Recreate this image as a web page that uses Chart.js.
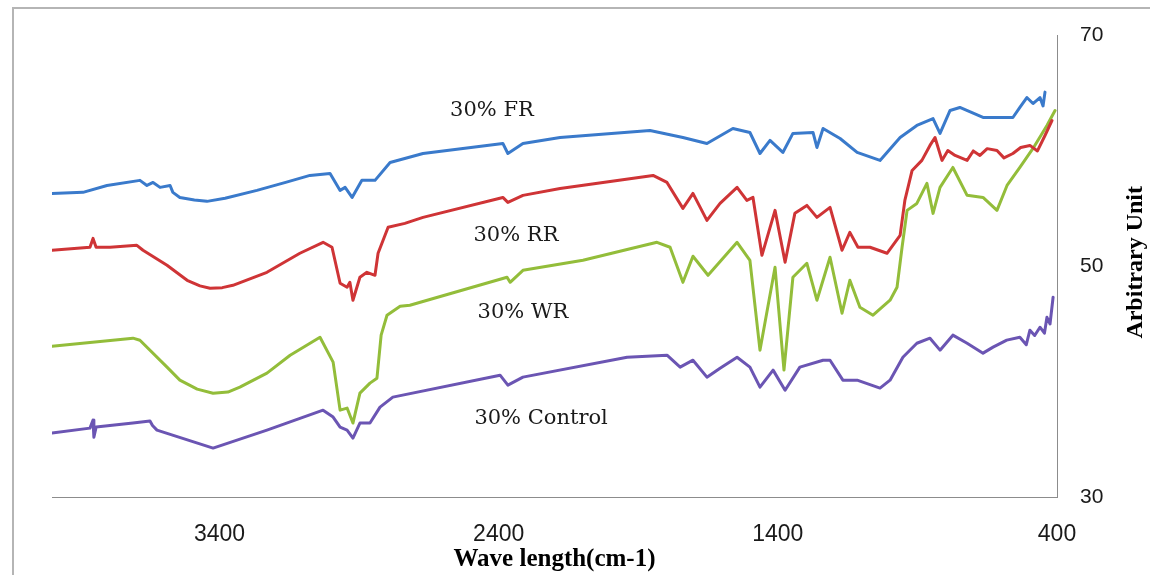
<!DOCTYPE html>
<html>
<head>
<meta charset="utf-8">
<title>FTIR spectra</title>
<script src="https://cdn.jsdelivr.net/npm/chart.js@4.4.1/dist/chart.umd.min.js"></script>
<style>
  html, body { margin: 0; padding: 0; background: #fff; }
  #wrap { position: relative; width: 1150px; height: 575px; overflow: hidden; background: #fff; }
  #frame { position: absolute; left: 12px; top: 7px; width: 1140px; height: 570px;
           border-top: 2px solid #b5b5b5; border-left: 2px solid #b5b5b5; box-sizing: border-box; }
  #c { position: absolute; left: 0; top: 0; }
</style>
</head>
<body>
<div id="wrap">
  <div id="frame"></div>
  <canvas id="c" width="1150" height="575"></canvas>
</div>
<script>
// Wavenumber ticks (cm-1), axis runs from high to low
const xTickValues = [3400, 2400, 1400, 400];
const yTickValues = [30, 50, 70];

// 30% FR
const frWn  = [4000, 3889, 3803, 3685, 3660, 3638, 3613, 3577, 3567, 3542, 3490, 3445, 3380, 3266, 3160, 3076, 3004, 2968, 2950, 2925, 2890, 2843, 2789, 2671, 2385, 2367, 2313, 2180, 1858, 1740, 1654, 1561, 1500, 1464, 1428, 1382, 1346, 1274, 1260, 1238, 1177, 1116, 1034, 962, 902, 844, 819, 783, 748, 665, 558, 533, 508, 486, 461, 450, 443];
const frVal = [56.32, 56.41, 57.01, 57.45, 57.01, 57.27, 56.84, 57.01, 56.41, 55.97, 55.75, 55.63, 55.90, 56.58, 57.30, 57.88, 58.05, 56.58, 56.84, 55.97, 57.45, 57.45, 59.00, 59.78, 60.65, 59.78, 60.65, 61.17, 61.77, 61.17, 60.65, 61.95, 61.60, 59.78, 60.91, 59.87, 61.52, 61.60, 60.30, 61.95, 61.08, 59.87, 59.18, 61.17, 62.21, 62.81, 61.52, 63.51, 63.77, 62.90, 62.90, 63.77, 64.63, 64.11, 64.63, 63.90, 65.10];

// 30% RR
const rrWn  = [4000, 3864, 3853, 3842, 3792, 3696, 3674, 3588, 3516, 3470, 3434, 3390, 3352, 3230, 3112, 3029, 2997, 2968, 2943, 2933, 2922, 2897, 2872, 2843, 2832, 2796, 2736, 2671, 2385, 2367, 2313, 2180, 1847, 1797, 1740, 1704, 1654, 1607, 1546, 1511, 1489, 1457, 1410, 1374, 1339, 1296, 1260, 1213, 1170, 1142, 1113, 1070, 1009, 962, 945, 919, 884, 855, 837, 812, 791, 765, 722, 700, 676, 650, 615, 590, 558, 530, 497, 470, 443, 418];
const rrVal = [51.39, 51.65, 52.42, 51.65, 51.65, 51.82, 51.39, 50.09, 48.79, 48.30, 48.10, 48.15, 48.35, 49.48, 51.13, 52.08, 51.65, 48.53, 48.18, 48.61, 47.06, 49.05, 49.48, 49.22, 51.13, 53.38, 53.72, 54.24, 55.97, 55.54, 56.15, 56.75, 57.88, 57.27, 55.02, 56.32, 53.98, 55.45, 56.84, 55.71, 55.97, 50.95, 54.85, 50.35, 54.59, 55.28, 54.24, 55.11, 51.39, 52.94, 51.65, 51.65, 51.13, 52.68, 55.71, 58.31, 59.18, 60.48, 61.17, 59.18, 60.04, 59.61, 59.18, 60.00, 59.61, 60.20, 60.04, 59.40, 59.78, 60.30, 60.48, 60.00, 61.34, 62.64];

// 30% WR
const wrWn  = [4000, 3710, 3685, 3588, 3542, 3480, 3423, 3370, 3327, 3230, 3147, 3040, 2993, 2968, 2943, 2922, 2897, 2861, 2836, 2821, 2800, 2753, 2718, 2370, 2359, 2313, 2098, 1833, 1786, 1740, 1704, 1650, 1546, 1500, 1464, 1410, 1378, 1346, 1296, 1260, 1213, 1170, 1142, 1106, 1059, 998, 973, 955, 937, 902, 866, 844, 819, 773, 722, 665, 615, 579, 533, 486, 436, 407];
const wrVal = [43.07, 43.77, 43.59, 41.26, 40.13, 39.35, 39.00, 39.10, 39.52, 40.74, 42.29, 43.85, 41.69, 37.53, 37.71, 36.41, 39.00, 39.87, 40.30, 44.03, 45.76, 46.54, 46.62, 49.05, 48.61, 49.65, 50.52, 52.08, 51.65, 48.61, 50.87, 49.22, 52.08, 50.52, 42.73, 49.91, 41.00, 49.05, 50.26, 47.06, 50.78, 45.93, 48.79, 46.45, 45.76, 47.06, 48.18, 51.65, 54.85, 55.45, 57.19, 54.59, 56.84, 58.57, 56.15, 55.97, 54.85, 57.01, 58.57, 60.22, 62.21, 63.51];

// 30% Control
const ctWn  = [4000, 3864, 3853, 3850, 3842, 3710, 3649, 3640, 3624, 3423, 3230, 3029, 2993, 2968, 2943, 2922, 2897, 2861, 2825, 2779, 2395, 2367, 2313, 1940, 1797, 1750, 1704, 1654, 1607, 1546, 1500, 1464, 1417, 1374, 1321, 1238, 1213, 1167, 1116, 1034, 998, 952, 902, 855, 819, 773, 722, 665, 629, 580, 533, 510, 497, 480, 461, 445, 436, 425, 414];
const ctVal = [35.54, 35.97, 36.67, 35.19, 36.06, 36.41, 36.58, 36.20, 35.80, 34.24, 35.80, 37.53, 36.93, 36.06, 35.80, 35.11, 36.41, 36.41, 37.79, 38.66, 40.56, 39.70, 40.39, 42.12, 42.29, 41.26, 41.86, 40.39, 41.17, 42.12, 41.26, 39.52, 41.00, 39.26, 41.26, 41.86, 41.86, 40.13, 40.13, 39.44, 40.13, 42.12, 43.33, 43.77, 42.73, 44.03, 43.33, 42.47, 42.99, 43.60, 43.85, 43.20, 44.46, 44.00, 44.72, 44.20, 45.58, 45.00, 47.32];

// Curve labels, anchored in data coordinates (wavenumber, value)
const curveLabels = [
  { text: '30% FR',      wn: 2424, val: 63.5 },
  { text: '30% RR',      wn: 2338, val: 52.7 },
  { text: '30% WR',      wn: 2313, val: 46.0 },
  { text: '30% Control', wn: 2248, val: 36.8 }
];

const pairs = (xs, ys) => xs.map((x, i) => ({ x: x, y: ys[i] }));

function series(label, xs, ys, color) {
  return {
    label: label,
    data: pairs(xs, ys),
    borderColor: color,
    backgroundColor: color,
    borderWidth: 3,
    pointRadius: 0,
    tension: 0,
    fill: false,
    borderJoinStyle: 'round',
    borderCapStyle: 'round'
  };
}

const curveLabelPlugin = {
  id: 'curveLabels',
  afterDatasetsDraw(chart) {
    const { ctx, scales: { x, y } } = chart;
    ctx.save();
    ctx.font = '21px "DejaVu Serif"';
    ctx.fillStyle = '#1a1a1a';
    ctx.textAlign = 'center';
    ctx.textBaseline = 'middle';
    curveLabels.forEach(l => {
      ctx.fillText(l.text, x.getPixelForValue(l.wn), y.getPixelForValue(l.val));
    });
    ctx.restore();
  }
};

const yTitlePlugin = {
  id: 'yTitle',
  afterDraw(chart) {
    const { ctx, chartArea } = chart;
    ctx.save();
    ctx.translate(chart.width - 14, (chartArea.top + chartArea.bottom) / 2 - 4);
    ctx.rotate(-Math.PI / 2);
    ctx.font = 'bold 24px "Liberation Serif"';
    ctx.fillStyle = '#000';
    ctx.textAlign = 'center';
    ctx.textBaseline = 'middle';
    ctx.fillText('Arbitrary Unit', 0, 0);
    ctx.restore();
  }
};

new Chart(document.getElementById('c'), {
  type: 'line',
  data: {
    datasets: [
      series('30% FR', frWn, frVal, '#3a7acb'),
      series('30% RR', rrWn, rrVal, '#cf3436'),
      series('30% WR', wrWn, wrVal, '#93bd3a'),
      series('30% Control', ctWn, ctVal, '#6b55b3')
    ]
  },
  options: {
    responsive: false,
    animation: false,
    layout: { padding: { left: 52, top: 35, right: 0, bottom: 0 } },
    plugins: { legend: { display: false }, tooltip: { enabled: false } },
    scales: {
      x: {
        type: 'linear',
        reverse: true,
        min: 400,
        max: 4000,
        grid: { display: false, drawTicks: false },
        border: { display: true, color: '#8c8c8c', width: 1 },
        afterBuildTicks: s => { s.ticks = xTickValues.map(v => ({ value: v })); },
        afterFit: s => { s.height = 78; },
        ticks: {
          autoSkip: false,
          maxRotation: 0,
          padding: 24,
          color: '#1a1a1a',
          font: { family: 'Liberation Sans', size: 23 },
          callback: v => String(v)
        },
        title: {
          display: true,
          text: 'Wave length(cm-1)',
          color: '#000',
          padding: { top: 0, bottom: 0 },
          font: { family: 'Liberation Serif', size: 25, weight: 'bold' }
        }
      },
      y: {
        position: 'right',
        min: 30,
        max: 70,
        grid: { display: false, drawTicks: false },
        border: { display: true, color: '#8c8c8c', width: 1 },
        afterBuildTicks: s => { s.ticks = yTickValues.map(v => ({ value: v })); },
        afterFit: s => { s.width = 93; },
        ticks: {
          padding: 23,
          color: '#1a1a1a',
          font: { family: 'Liberation Sans', size: 21 },
          callback: v => String(v)
        }
      }
    }
  },
  plugins: [curveLabelPlugin, yTitlePlugin]
});
</script>
</body>
</html>
